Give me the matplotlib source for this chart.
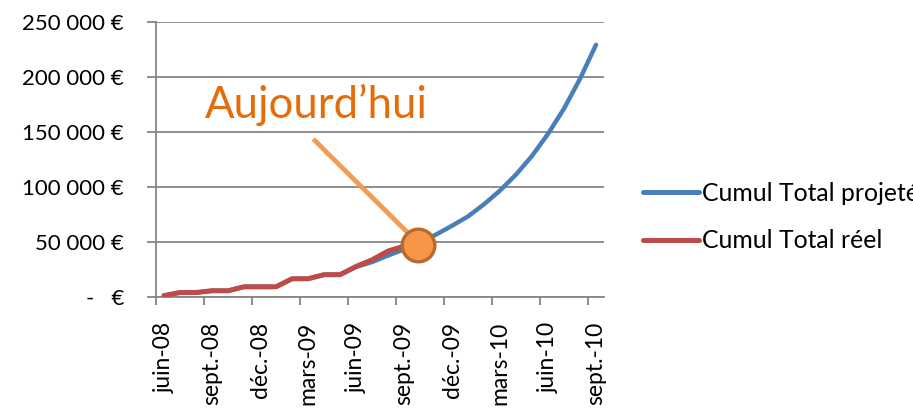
"""
Cumul total projeté vs réel, avec repère « Aujourd'hui ».

Output:
  - out.png
"""

from __future__ import annotations

import matplotlib

matplotlib.use("Agg")
import matplotlib.patheffects as pe
import matplotlib.pyplot as plt
import numpy as np

MONTHS = [
    "juin-08", "juil.-08", "août-08", "sept.-08", "oct.-08", "nov.-08", "déc.-08",
    "janv.-09", "févr.-09", "mars-09", "avr.-09", "mai-09", "juin-09", "juil.-09",
    "août-09", "sept.-09", "oct.-09", "nov.-09", "déc.-09", "janv.-10", "févr.-10",
    "mars-10", "avr.-10", "mai-10", "juin-10", "juil.-10", "août-10", "sept.-10",
]
PROJECTED = [
    1000, 3800, 3800, 5400, 5400, 9000, 9000, 9000, 16300, 16300,
    20000, 20000, 27000, 31500, 37500, 43000, 49500, 56500, 64500, 73000,
    84000, 96500, 111000, 128000, 148000, 171000, 198000, 229000,
]
REAL = [
    1000, 3800, 3800, 5400, 5400, 9000, 9000, 9000, 16300, 16300,
    20000, 20000, 27500, 33500, 41500, 46000,
]
SERIES_LABELS = ["Cumul Total projeté", "Cumul Total réel"]

# annotation "today" (position in month index / euros)
TODAY_IDX = 15.85
TODAY_VALUE = 47000
POINTER_START = (9.33, 143400)
POINTER_END = (15.17, 59100)
TODAY_TEXT_POS = (9.5, 162200)
TODAY_TEXT = "Aujourd’hui"

BLUE = "#4A7EBB"
RED = "#BE4B48"
GRID = "#868686"
ORANGE_TXT = "#E46C0A"
FONT = ["Lato", "DejaVu Sans"]


def euro(v: float) -> str:
    if v == 0:
        return "-   €"
    return f"{v:,.0f}".replace(",", " ") + " €"


def main() -> int:
    plt.rcParams["font.family"] = FONT
    W, H = 913, 408
    fig = plt.figure(figsize=(W / 100, H / 100), dpi=100)
    ax = fig.add_axes([156 / W, 111.3 / H, 448 / W, 275 / H])

    x = np.arange(len(MONTHS))
    ax.plot(x, PROJECTED, color=BLUE, lw=3.2, solid_capstyle="round",
            label=SERIES_LABELS[0], zorder=3)
    ax.plot(x[: len(REAL)], REAL, color=RED, lw=3.6, solid_capstyle="round",
            label=SERIES_LABELS[1], zorder=3)

    ax.set_xlim(-0.5, len(MONTHS) - 0.5)
    ax.set_ylim(0, 250000)

    yt = np.arange(0, 250001, 50000)
    ax.set_yticks(yt)
    ax.set_yticklabels([euro(v) for v in yt], fontsize=16)
    ax.yaxis.grid(True, color=GRID, lw=1.3)
    ax.set_axisbelow(True)
    ax.tick_params(axis="y", length=6.5, width=1.3, color=GRID, pad=16.5)

    ax.set_xticks(np.arange(-0.5, len(MONTHS) - 1, 3))
    ax.set_xticks(x[::3], minor=True)
    ax.set_xticklabels(MONTHS[::3], minor=True, rotation=90, fontsize=16.5)
    ax.tick_params(axis="x", which="major", length=6, width=1.3, color=GRID,
                   labelbottom=False)
    ax.tick_params(axis="x", which="minor", length=0, pad=18)

    for side in ("top", "right"):
        ax.spines[side].set_visible(False)
    for side in ("left", "bottom"):
        ax.spines[side].set_color(GRID)
        ax.spines[side].set_linewidth(1.3)

    # pointer + circle
    ax.plot([POINTER_START[0], POINTER_END[0]], [POINTER_START[1], POINTER_END[1]],
            color="#F79A4C", lw=3.2, solid_capstyle="butt", zorder=4,
            path_effects=[pe.SimpleLineShadow(offset=(1.5, -1.5), shadow_color="gray",
                                              alpha=0.5), pe.Normal()])
    ax.plot(TODAY_IDX, TODAY_VALUE, "o", ms=23.5, mfc="#F79646", mec="#B7692E",
            mew=2.4, zorder=5)
    ax.text(TODAY_TEXT_POS[0], TODAY_TEXT_POS[1], TODAY_TEXT, color=ORANGE_TXT,
            fontsize=31.5, ha="center", va="baseline", zorder=6)

    ax.legend(loc="center left", bbox_to_anchor=(643 / W, 1 - 217 / H),
              bbox_transform=fig.transFigure, frameon=False, fontsize=17.8,
              handlelength=2.25, handletextpad=0.15, labelspacing=1.0,
              borderpad=0, borderaxespad=0)
    for line in ax.get_legend().get_lines():
        line.set_linewidth(3.6)

    fig.savefig("out.png", dpi=100)
    plt.close(fig)
    return 0


if __name__ == "__main__":
    raise SystemExit(main())
